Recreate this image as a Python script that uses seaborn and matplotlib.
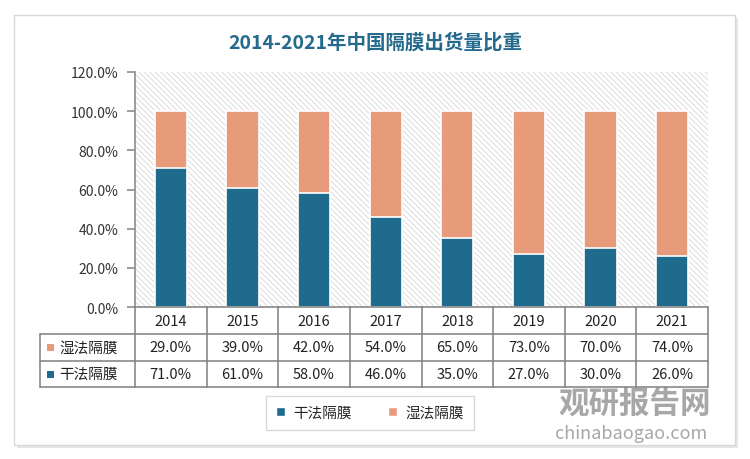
import numpy as np
import pandas as pd
import matplotlib
matplotlib.use('Agg')
import matplotlib.pyplot as plt
import seaborn as sns
from matplotlib.patches import Rectangle, Patch

years = ['2014', '2015', '2016', '2017', '2018', '2019', '2020', '2021']
wet = [29.0, 39.0, 42.0, 54.0, 65.0, 73.0, 70.0, 74.0]
dry = [71.0, 61.0, 58.0, 46.0, 35.0, 27.0, 30.0, 26.0]
series_names = ['干法隔膜', '湿法隔膜']
y_ticks = [0, 20, 40, 60, 80, 100, 120]
title = '2014-2021年中国隔膜出货量比重'

c_dry = '#1f6b8e'
c_wet = '#e89b7b'

sns.set_theme(style='white')
plt.rcParams['font.family'] = ['Noto Sans CJK SC', 'DejaVu Sans']
plt.rcParams['hatch.linewidth'] = 0.6

df = pd.DataFrame({'year': years, 'dry': dry, 'wet': wet})
df['total'] = df['dry'] + df['wet']

W, H = 750, 460
fig = plt.figure(figsize=(7.5, 4.6), dpi=100)
fig.patch.set_facecolor('white')

def fx(px):
    return px / W

def fy(py):
    return 1 - py / H

# outer frame with shadow
fig.patches.append(Rectangle((fx(17), fy(449)), fx(721), (430) / H, transform=fig.transFigure,
                             facecolor='#e6e6e6', edgecolor='none', zorder=-2))
fig.patches.append(Rectangle((fx(14), fy(446)), fx(721), (430) / H, transform=fig.transFigure,
                             facecolor='white', edgecolor='#d8d8d8', lw=1, zorder=-1))

left, right, top, bottom = 135, 708, 73, 308
ax = fig.add_axes([fx(left), fy(bottom), fx(right - left), (bottom - top) / H])
ax.set_zorder(2)
ax.set_facecolor('none')
ax.add_patch(Rectangle((0, 0), 1, 1, transform=ax.transAxes, facecolor='white',
                       edgecolor='#d6d6d6', hatch='\\\\\\\\\\\\', lw=0, zorder=0))

sns.barplot(data=df, x='year', y='total', color=c_wet, width=0.45, ax=ax,
            edgecolor='white', linewidth=1.2, saturation=1, zorder=3)
sns.barplot(data=df, x='year', y='dry', color=c_dry, width=0.45, ax=ax,
            edgecolor='white', linewidth=1.2, saturation=1, zorder=4)

ax.set_ylim(0, 120)
ax.set_xlim(-0.5, len(years) - 0.5)
ax.set_yticks(y_ticks)
ax.set_yticklabels([f'{v:.1f}%' for v in y_ticks], fontsize=10, color='#333333')
ax.set_xticks([])
ax.set_xlabel('')
ax.set_ylabel('')
for s in ['top', 'right', 'bottom']:
    ax.spines[s].set_visible(False)
ax.spines['left'].set_color('#8c8c8c')
ax.spines['left'].set_linewidth(1.2)
ax.tick_params(axis='y', left=True, length=6, width=1.2, color='#8c8c8c', pad=6)

fig.text(0.5, fy(43), title, ha='center', va='center', fontsize=14,
         fontweight='bold', color='#236a8c')

# data table under the axes
line_kw = dict(color='#7f7f7f', lw=1.1, transform=fig.transFigure, zorder=5)
col_w = (right - left) / len(years)
rows_y = [308, 335, 362, 388]
tab_left = 40
fig.add_artist(plt.Line2D([fx(left), fx(right)], [fy(rows_y[0])] * 2, **line_kw))
for ry in rows_y[1:]:
    fig.add_artist(plt.Line2D([fx(tab_left), fx(right)], [fy(ry)] * 2, **line_kw))
fig.add_artist(plt.Line2D([fx(tab_left)] * 2, [fy(rows_y[1]), fy(rows_y[3])], **line_kw))
for i in range(len(years) + 1):
    xx = left + i * col_w
    fig.add_artist(plt.Line2D([fx(xx)] * 2, [fy(rows_y[0]), fy(rows_y[3])], **line_kw))

tab_rows = [(series_names[1], wet, c_wet), (series_names[0], dry, c_dry)]
for i, y in enumerate(years):
    fig.text(fx(left + (i + 0.5) * col_w), fy((rows_y[0] + rows_y[1]) / 2), y,
             ha='center', va='center', fontsize=10.5, color='#222222')
for r, (name, vals, col) in enumerate(tab_rows):
    cy = fy((rows_y[r + 1] + rows_y[r + 2]) / 2)
    fig.patches.append(Rectangle((fx(47), cy - 3.5 / H), fx(7), 7 / H,
                                 transform=fig.transFigure, facecolor=col, edgecolor='none'))
    fig.text(fx(59), cy, name, ha='left', va='center', fontsize=10.5, color='#222222')
    for i, v in enumerate(vals):
        fig.text(fx(left + (i + 0.5) * col_w), cy, f'{v:.1f}%',
                 ha='center', va='center', fontsize=10.5, color='#222222')

handles = [Patch(facecolor=c_dry, label=series_names[0]),
           Patch(facecolor=c_wet, label=series_names[1])]
leg = fig.legend(handles=handles, loc='center', bbox_to_anchor=(fx(370), fy(414)),
                 ncol=2, frameon=True, fontsize=10.5, handlelength=0.6, handleheight=0.6,
                 columnspacing=2.5, handletextpad=0.6, borderpad=0.7, fancybox=False)
leg.get_frame().set_edgecolor('#d0d0d0')
leg.get_frame().set_linewidth(1)

# watermark
fig.text(fx(635), fy(404), '观研报告网', ha='center', va='center', fontsize=22,
         fontweight='bold', color='#8a8a8a', alpha=0.75)
fig.text(fx(631), fy(434), 'chinabaogao.com', ha='center', va='center', fontsize=13,
         color='#8a8a8a', alpha=0.75)

fig.savefig('out.png', dpi=100, facecolor='white')
